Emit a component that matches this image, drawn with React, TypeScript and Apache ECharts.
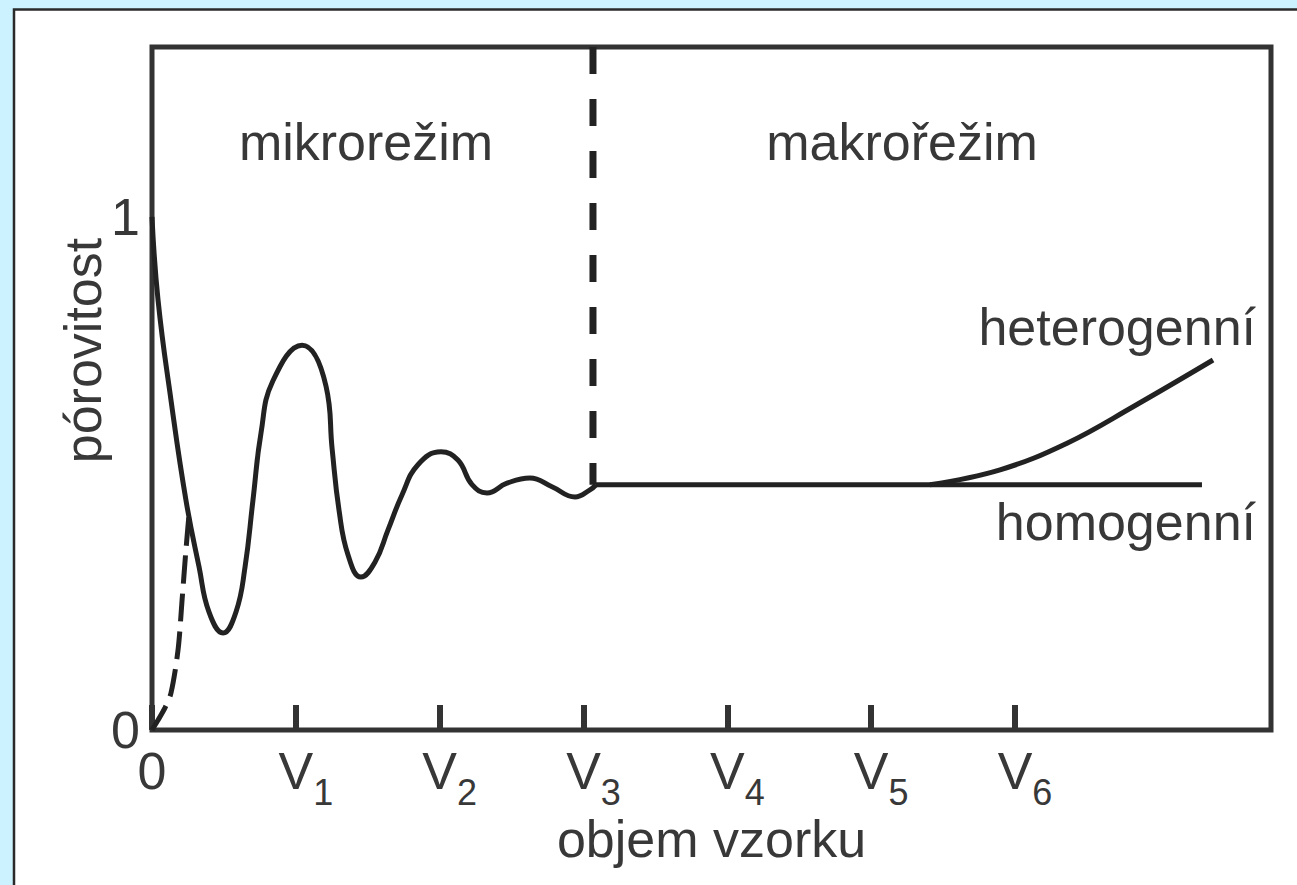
import React, { useEffect, useRef } from "react";
import * as echarts from "echarts";

// ---- data ----
const xTickValues = [0, 1, 2, 3, 4, 5, 6];
const xTickNames = ["0", "V", "V", "V", "V", "V", "V"];
const xTickSubs = ["", "1", "2", "3", "4", "5", "6"];
const yTickValues = [0, 1];
const yTickLabels = ["0", "1"];

const xName = "objem vzorku";
const yName = "pórovitost";

// damped oscillation in the micro regime
const microCurve: [number, number][] = [
  [0, 1.0], [0.042, 0.838], [0.132, 0.643], [0.236, 0.448], [0.327, 0.318],
  [0.396, 0.23], [0.494, 0.189], [0.584, 0.23], [0.647, 0.318], [0.702, 0.448],
  [0.758, 0.579], [0.84, 0.68], [1.043, 0.75], [1.21, 0.67],
  [1.253, 0.546], [1.3, 0.429], [1.363, 0.341], [1.453, 0.298],
  [1.55, 0.327], [1.641, 0.39], [1.738, 0.458], [1.849, 0.517], [2.009, 0.542],
  [2.127, 0.526], [2.225, 0.478], [2.329, 0.462], [2.468, 0.481], [2.628, 0.491],
  [2.781, 0.474], [2.941, 0.454], [3.045, 0.468], [3.087, 0.478],
];
const homogeneousLine: [number, number][] = [[3.087, 0.478], [7.3, 0.478]];
const heterogeneousCurve: [number, number][] = [
  [5.409, 0.478], [5.896, 0.507], [6.362, 0.559], [6.821, 0.63], [7.377, 0.721],
];
const originDashed: [number, number][] = [
  [0, 0], [0.035, 0.016], [0.09, 0.043], [0.132, 0.072], [0.181, 0.156],
  [0.209, 0.253], [0.236, 0.351], [0.257, 0.419],
];
const regimeBoundary = 3.066;
const regimeLine: [number, number][] = [[regimeBoundary, 1.331], [regimeBoundary, 0.478]];

const regionLabels = ["mikrorežim", "makrořežim"];
const curveLabels = ["heterogenní", "homogenní"];

const FONT = "'Liberation Sans', Arial, sans-serif";
const TXT = "#383838";
const LINE = "#222";

export default function App() {
  const ref = useRef<HTMLDivElement>(null);
  useEffect(() => {
    if (!ref.current) return;
    const chart = echarts.init(ref.current, undefined, { renderer: "svg" });
    const textEl = (text: string, x: number, y: number, align: string) => ({
      type: "text",
      x,
      y,
      style: {
        text,
        fontSize: 52,
        fontFamily: FONT,
        fill: TXT,
        align,
        textAlign: align,
        verticalAlign: "middle",
        textVerticalAlign: "middle",
      },
    });
    chart.setOption({
      animation: false,
      backgroundColor: "#cbf2fe",
      textStyle: { fontFamily: FONT },
      grid: {
        left: 152,
        top: 47,
        right: 26,
        bottom: 155,
        show: true,
        borderColor: "#333",
        borderWidth: 5,
        backgroundColor: "transparent",
        containLabel: false,
        outerBoundsMode: "none",
      },
      xAxis: {
        type: "value",
        min: 0,
        max: 7.78,
        name: xName,
        nameLocation: "middle",
        nameGap: 89,
        nameMoveOverlap: false,
        nameTextStyle: { fontSize: 52, lineHeight: 40, color: TXT, fontFamily: FONT },
        axisLine: { show: false },
        splitLine: { show: false },
        axisTick: {
          show: true,
          inside: true,
          length: 25,
          customValues: xTickValues,
          lineStyle: { color: "#333", width: 6 },
        },
        axisLabel: {
          customValues: xTickValues,
          margin: 15,
          color: TXT,
          formatter: (v: number) => {
            const i = xTickValues.indexOf(Math.round(v));
            if (i < 0) return "";
            const sub = xTickSubs[i];
            return sub
              ? `{pad| }{v|${xTickNames[i]}}{s|${sub}}`
              : `{z|${xTickNames[i]}}`;
          },
          rich: {
            pad: { width: 20, fontSize: 12, lineHeight: 12, verticalAlign: "top" },
            v: { fontSize: 52, lineHeight: 52, verticalAlign: "top", color: TXT, fontFamily: FONT },
            s: { fontSize: 36, lineHeight: 26, padding: [29, 0, 0, 0], verticalAlign: "top", color: TXT, fontFamily: FONT },
            z: { fontSize: 52, lineHeight: 34, verticalAlign: "top", color: TXT, fontFamily: FONT },
          },
        },
      },
      yAxis: {
        type: "value",
        min: 0,
        max: 1.331,
        name: yName,
        nameLocation: "middle",
        nameGap: 43,
        nameRotate: 90,
        nameMoveOverlap: false,
        nameTextStyle: { fontSize: 52, lineHeight: 52, color: TXT, fontFamily: FONT, padding: [0, 0, 0, 76] },
        axisLine: { show: false },
        axisTick: { show: false },
        splitLine: { show: false },
        axisLabel: {
          customValues: yTickValues,
          margin: 12,
          fontSize: 52,
          color: TXT,
          formatter: (v: number) => {
            const i = yTickValues.indexOf(Math.round(v));
            return i < 0 ? "" : yTickLabels[i];
          },
        },
      },
      graphic: [
        {
          type: "rect",
          z: -10,
          shape: { x: 14, y: 9.5, width: 1400, height: 1000 },
          style: { fill: "#ffffff", stroke: "#2a2a2a", lineWidth: 2.5 },
        },
        textEl(regionLabels[0], 366, 142, "center"),
        textEl(regionLabels[1], 902, 142, "center"),
        textEl(curveLabels[0], 1256, 327, "right"),
        textEl(curveLabels[1], 1256, 522, "right"),
      ],
      series: [
        {
          type: "line",
          data: microCurve,
          smooth: 0.45,
          showSymbol: false,
          lineStyle: { color: LINE, width: 5 },
          z: 3,
        },
        {
          type: "line",
          data: homogeneousLine,
          showSymbol: false,
          lineStyle: { color: LINE, width: 5 },
          z: 3,
        },
        {
          type: "line",
          data: heterogeneousCurve,
          smooth: 0.4,
          showSymbol: false,
          lineStyle: { color: LINE, width: 5 },
          z: 3,
        },
        {
          type: "line",
          data: regimeLine,
          showSymbol: false,
          lineStyle: { color: LINE, width: 7, type: [27, 25] },
          z: 3,
        },
        {
          type: "line",
          data: originDashed,
          smooth: 0.3,
          showSymbol: false,
          lineStyle: { color: LINE, width: 5, type: [28, 10] },
          z: 3,
        },
      ],
    });
    return () => chart.dispose();
  }, []);
  return (
    <div
      ref={ref}
      style={{ position: "fixed", left: 0, top: 0, width: 1297, height: 885 }}
    />
  );
}
